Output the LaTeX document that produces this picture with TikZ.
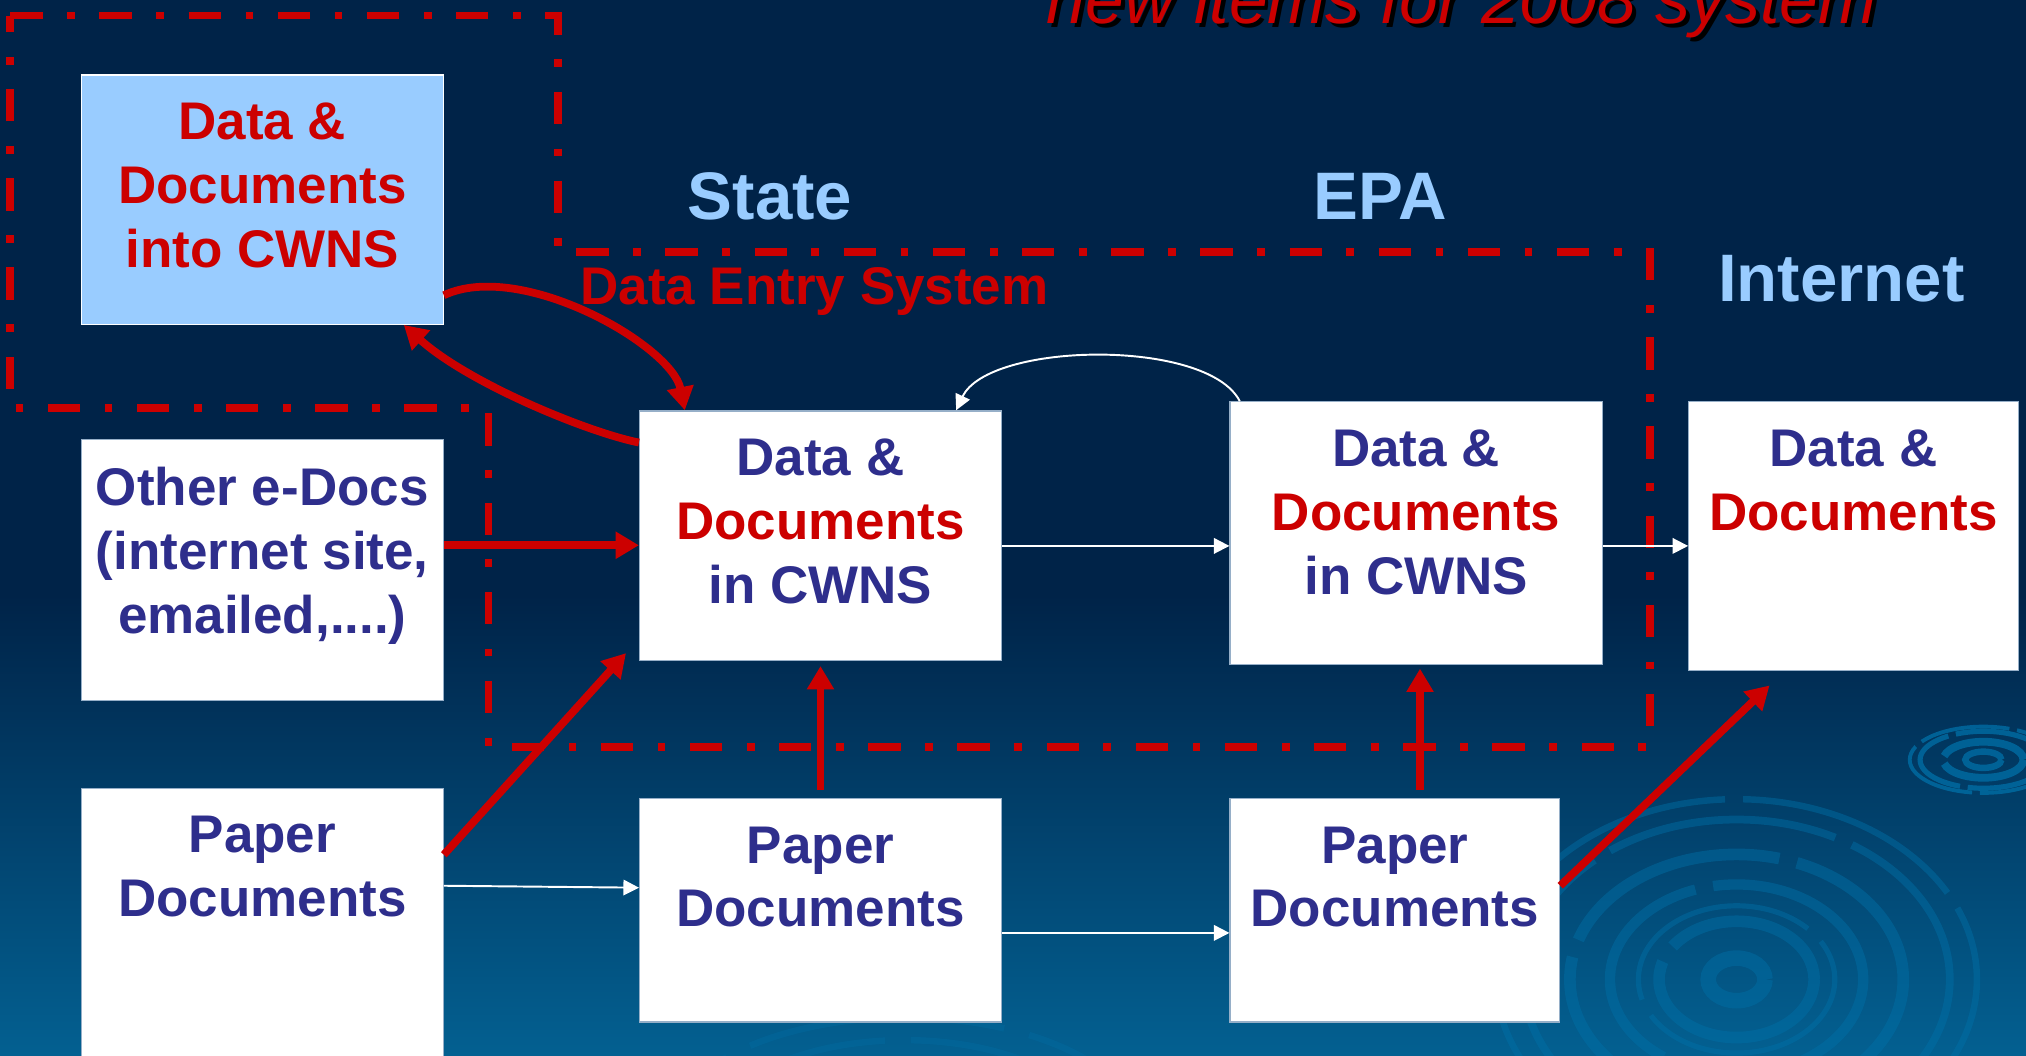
\documentclass[tikz,border=0pt]{standalone}
\usepackage{fontspec}
\setmainfont{Liberation Sans}
\usepackage{xcolor}
\usetikzlibrary{positioning,arrows.meta}

\definecolor{slidetop}{RGB}{0,35,72}
\definecolor{slidebot}{RGB}{3,96,145}
\definecolor{ripple}{RGB}{0,112,168}
\definecolor{cwnsred}{RGB}{204,0,0}
\definecolor{cwnsnavy}{RGB}{46,46,140}
\definecolor{skyblue}{RGB}{153,204,255}
\definecolor{boxline}{RGB}{150,175,200}

\begin{document}
\begin{tikzpicture}[
  x=1pt, y=-1pt,
  docbox/.style={rectangle, draw=boxline, fill=white, line width=1pt, inner sep=0pt},
  boxtext/.style={inner sep=0pt, align=center, text=cwnsnavy,
                  font=\fontsize{41}{49.5}\selectfont\bfseries},
  sidelabel/.style={text=skyblue, font=\fontsize{52}{60}\selectfont\bfseries},
  redarrow/.style={draw=cwnsred, line width=6pt, -{Triangle[length=18pt,width=20pt]}},
  whitearrow/.style={draw=white, line width=1.5pt, -{Triangle[length=12pt,width=12pt]}},
  entryline/.style={draw=cwnsred, line width=6pt, dash pattern=on 25pt off 19pt on 6pt off 19pt}
]
  % slide background
  \useasboundingbox (0,0) rectangle (1568,817);
  \clip (0,0) rectangle (1568,817);
  \fill[slidetop] (0,0) rectangle (1568,461);
  \shade[top color=slidetop, bottom color=slidebot] (0,460) rectangle (1568,817);

  % water ripples
  \foreach \r/\w in {14/5, 31/6, 49/4, 57/3}
    \draw[ripple, opacity=0.75, line width=\w pt, dash pattern=on 70pt off 6pt] (1535,588) ellipse [x radius=\r, y radius=0.45*\r];
  \foreach \r/\w in {22/12, 60/9, 76/4, 98/8, 129/9, 165/6, 186/5}
    \draw[ripple, opacity=0.45, line width=\w pt, dash pattern=on 180pt off 14pt] (1344,758) ellipse [x radius=\r, y radius=0.75*\r];
  \foreach \r in {150, 185}
    \draw[ripple, opacity=0.3, line width=5pt, dash pattern=on 90pt off 20pt] (700,880) ellipse [x radius=\r, y radius=0.5*\r];

  % title
  \node[anchor=base west, inner sep=0pt, text=black,
        font=\fontsize{54}{60}\selectfont\itshape] (titleshadow) at (813,21) {new items for 2008 system};
  \node[anchor=base west, inner sep=0pt, text=cwnsred,
        font=\fontsize{54}{60}\selectfont\itshape] (title) at (810,18) {new items for 2008 system};

  % data entry system outline
  \draw[entryline] (8,12) -- (432,12) -- (432,195) -- (1277,195) -- (1277,578)
                   -- (378,578) -- (378,316) -- (8,316) -- cycle;

  % column headings
  \node[sidelabel] (statelbl) at (596,152) {State};
  \node[sidelabel] (epalbl) at (1068,152) {EPA};
  \node[sidelabel] (inetlbl) at (1425,216) {Internet};
  \node[anchor=base west, inner sep=0pt, text=cwnsred,
        font=\fontsize{41}{49}\selectfont\bfseries] (entrylbl) at (449,236) {Data Entry System};

  % boxes
  \node[docbox, fill=skyblue, draw=white, minimum width=280pt, minimum height=193pt] (into) at (203,154.5) {};
  \node[docbox, minimum width=280pt, minimum height=202pt] (edocs) at (203,441) {};
  \node[docbox, minimum width=280pt, minimum height=230pt] (paperL) at (203,725) {};
  \node[docbox, minimum width=280pt, minimum height=193pt] (state) at (635,414.5) {};
  \node[docbox, minimum width=280pt, minimum height=173pt] (paperM) at (635,704.5) {};
  \node[docbox, minimum width=288pt, minimum height=203pt] (epa) at (1096,412.5) {};
  \node[docbox, minimum width=255pt, minimum height=173pt] (paperR) at (1079.5,704.5) {};
  \node[docbox, minimum width=255pt, minimum height=208pt] (inet) at (1434.5,415) {};

  % box texts
  \node[boxtext, text=cwnsred, below=22pt of into.north] (intotxt) {Data \&\\Documents\\into CWNS};
  \node[boxtext, below=22pt of edocs.north] (edocstxt) {Other e-Docs\\(internet site,\\emailed,....)};
  \node[boxtext, below=22pt of paperL.north] (paperLtxt) {Paper\\Documents};
  \node[boxtext, below=22pt of state.north] (statetxt) {Data \&\\\textcolor{cwnsred}{Documents}\\in CWNS};
  \node[boxtext, below=22pt of paperM.north] (paperMtxt) {Paper\\Documents};
  \node[boxtext, below=22pt of epa.north] (epatxt) {Data \&\\\textcolor{cwnsred}{Documents}\\in CWNS};
  \node[boxtext, below=22pt of paperR.north] (paperRtxt) {Paper\\Documents};
  \node[boxtext, below=22pt of inet.north] (inettxt) {Data \&\\\textcolor{cwnsred}{Documents}};

  % red connectors
  \draw[redarrow] ([yshift=23pt]into.south east) .. controls +(60,-28) and +(-10,-50) .. ([xshift=-105pt]state.north);
  \draw[redarrow] ([yshift=-25pt]state.north west) .. controls +(-40,-8) and +(50,45) .. ([xshift=-31pt]into.south east);
  \draw[redarrow] ([yshift=19pt]edocs.east) -- ([yshift=-7.5pt]state.west);
  \draw[redarrow] ([yshift=-52pt]paperL.north east) -- ([xshift=-10pt,yshift=6pt]state.south west);
  \draw[redarrow] ([yshift=6pt]paperM.north) -- ([yshift=-4pt]state.south);
  \draw[redarrow] ([xshift=19.5pt,yshift=6pt]paperR.north) -- ([xshift=3pt,yshift=-3pt]epa.south);
  \draw[redarrow] ([yshift=-68pt]paperR.north east) -- ([xshift=63pt,yshift=-11pt]inet.south west);

  % white connectors
  \draw[whitearrow] ([yshift=-76pt]paperL.north east) -- ([yshift=17.5pt]paperM.west);
  \draw[whitearrow] ([yshift=-17.5pt]paperM.east) -- ([yshift=-17.5pt]paperR.west);
  \draw[whitearrow] ([yshift=-8pt]state.east) -- ([yshift=-10pt]epa.west);
  \draw[whitearrow] ([yshift=-10pt]epa.east) -- ([yshift=-7.5pt]inet.west);
  \draw[whitearrow] ([xshift=8pt]epa.north west) .. controls +(-25,-49) and +(25,-53) .. ([xshift=105pt]state.north);
\end{tikzpicture}
\end{document}
